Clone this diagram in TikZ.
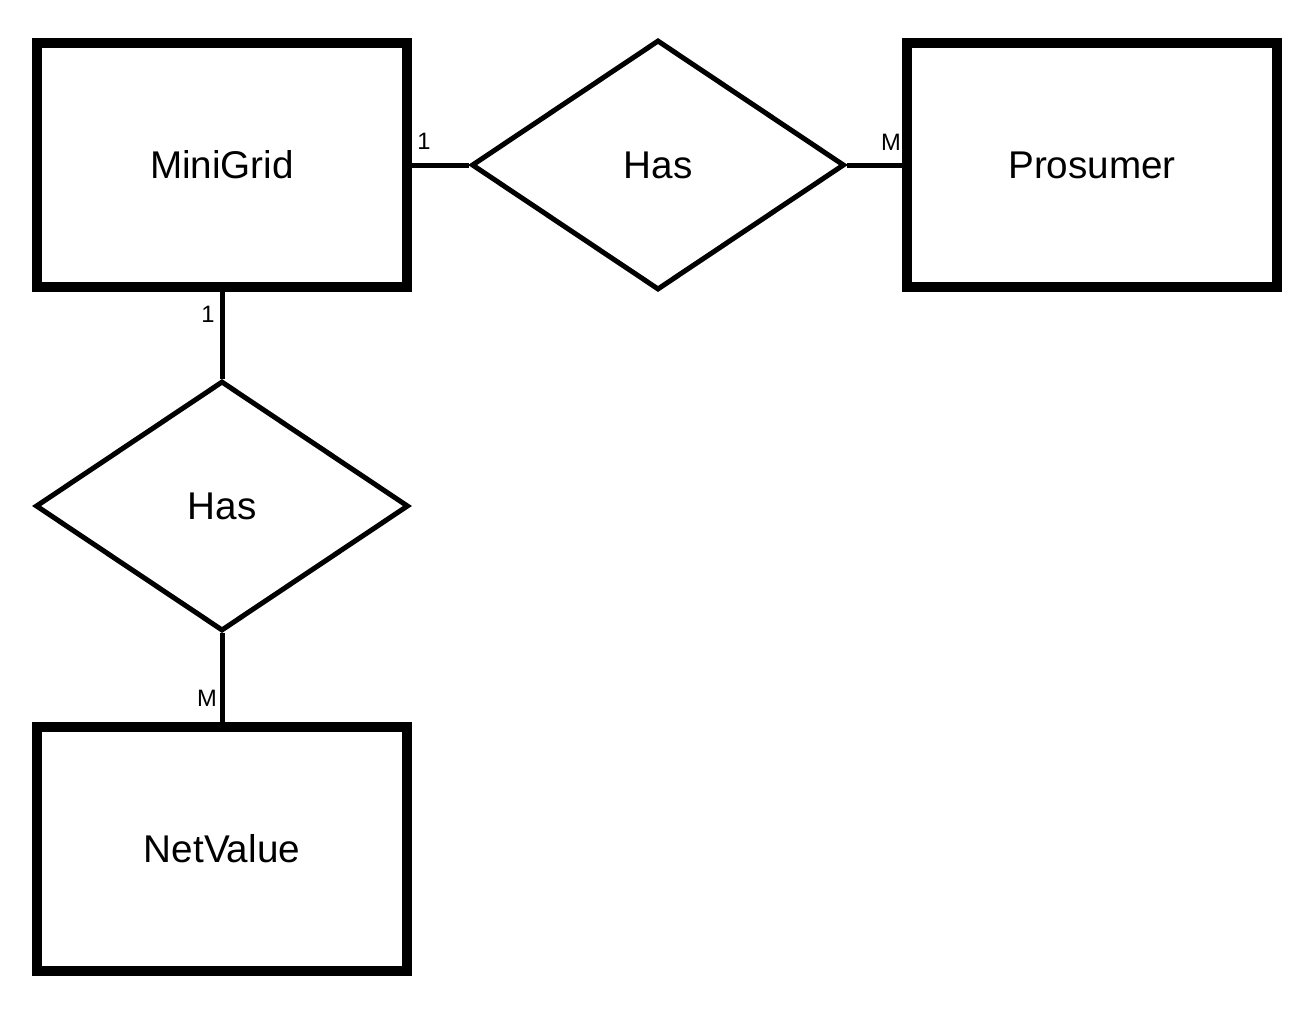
\documentclass[tikz,border=0pt]{standalone}
\usepackage{fontspec}
\setmainfont{Liberation Sans}
\usetikzlibrary{shapes.geometric}

\begin{document}
\begin{tikzpicture}[x = 0.02cm, y = -0.02cm]
\tikzstyle{EntityStyle}=[shape = rectangle,
                         minimum width = 7.4cm,
                         minimum height = 4.88cm,
                         line width = 0.2cm,
                         font = \fontsize{22}{26}\selectfont,
                         draw]
\tikzstyle{RelationStyle}=[shape = diamond,
                         minimum width = 7.46cm,
                         minimum height = 5cm,
                         inner sep = 0pt,
                         line width = 0.1cm,
                         font = \fontsize{22}{26}\selectfont,
                         draw]
\tikzstyle{CardStyle}=[font = \fontsize{13.5}{16}\selectfont, inner sep = 0pt]
\tikzstyle{LinkStyle}=[line width = 0.1cm]
\useasboundingbox (0,0) rectangle (1295,1014);
\node[EntityStyle] (minigrid) at (222,165) {MiniGrid};
\node[EntityStyle] (prosumer) at (1092,165) {Prosumer};
\node[EntityStyle] (netvalue) at (222,849) {NetValue};
\node[RelationStyle] (has1) at (658,165) {Has};
\node[RelationStyle] (has2) at (222,506) {Has};
\draw[LinkStyle] (minigrid) -- (has1);
\draw[LinkStyle] (has1) -- (prosumer);
\draw[LinkStyle] (minigrid) -- (has2);
\draw[LinkStyle] (has2) -- (netvalue);
\node[CardStyle] (c1) at (424,141) {1};
\node[CardStyle] (c2) at (891,142) {M};
\node[CardStyle] (c3) at (208,314) {1};
\node[CardStyle] (c4) at (207,698) {M};
\end{tikzpicture}
\end{document}
